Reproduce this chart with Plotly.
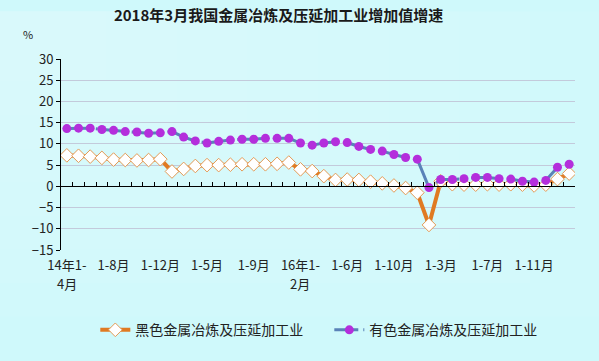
import plotly.graph_objects as go

# Categories: cumulative months, 2014 1-4 .. 2018 1-3
categories = (
    [f"2014年1-{m}月" for m in range(4, 13)]
    + [f"2015年1-{m}月" for m in range(2, 13)]
    + [f"2016年1-{m}月" for m in range(2, 13)]
    + [f"2017年1-{m}月" for m in range(2, 13)]
    + [f"2018年1-{m}月" for m in range(2, 4)]
)

ferrous = [7.3, 7.2, 7.0, 6.7, 6.3, 6.2, 6.1, 6.2, 6.4,
           3.5, 4.1, 4.8, 5.0, 5.0, 5.1, 5.2, 5.2, 5.2, 5.3, 5.6,
           4.0, 3.6, 2.4, 1.5, 1.6, 1.5, 1.1, 0.7, 0.2, -0.4, -1.5,
           -9.1, 1.2, 0.5, 0.4, 0.4, 0.5, 0.4, 0.5, 0.4, 0.2, 0.4,
           1.7, 3.0]

nonferrous = [13.6, 13.7, 13.7, 13.4, 13.2, 12.9, 12.8, 12.5, 12.6,
              12.9, 11.6, 10.7, 10.2, 10.6, 10.9, 11.1, 11.1, 11.3, 11.3, 11.3,
              10.2, 9.7, 10.2, 10.5, 10.3, 9.4, 8.7, 8.3, 7.5, 6.8, 6.4,
              -0.3, 1.6, 1.6, 1.8, 2.1, 2.1, 1.8, 1.7, 1.2, 1.0, 1.4,
              4.5, 5.2]

tick_idx = [0, 4, 8, 12, 16, 20, 24, 28, 32, 36, 40]
tick_text = ["14年1-", "1-8月", "1-12月", "1-5月", "1-9月", "16年1-",
             "1-6月", "1-10月", "1-3月", "1-7月", "1-11月"]
# second lines of the wrapped labels
tick_line2_idx = [0, 20]
tick_line2_text = ["4月", "2月"]

y_ticks = list(range(-15, 31, 5))

name_ferrous = "黑色金属冶炼及压延加工业"
name_nonferrous = "有色金属冶炼及压延加工业"

x_idx = list(range(len(categories)))
n = len(categories)

FONT = "Noto Sans CJK SC"
BG = "#CFF9FB"

fig = go.Figure()
fig.add_trace(go.Scatter(
    x=x_idx, y=ferrous, name=name_ferrous, mode="lines+markers",
    line=dict(color="#E07A22", width=4),
    marker=dict(symbol="diamond", size=10.5, color="#FFFFFF",
                line=dict(color="#E39A55", width=1)),
    customdata=categories, hovertemplate="%{customdata}: %{y}%<extra></extra>",
))
fig.add_trace(go.Scatter(
    x=x_idx, y=nonferrous, name=name_nonferrous, mode="lines+markers",
    line=dict(color="#5A82B8", width=3, dash="24px,5px,2px,5px"),
    marker=dict(symbol="circle", size=9, color="#B42EDC"),
    customdata=categories, hovertemplate="%{customdata}: %{y}%<extra></extra>",
))
# helper trace for the zero-crossing axis with tick marks
fig.add_trace(go.Scatter(x=x_idx, y=[None] * n, xaxis="x2", showlegend=False,
                         hoverinfo="skip"))

# soft light gradient from the top-left corner
shapes = []
for k in range(8):
    f = 1 - k * 0.11
    shapes.append(dict(type="rect", xref="paper", yref="paper", layer="below",
                       x0=-0.2, x1=-0.2 + 1.25 * f, y0=1.25 - 1.6 * f, y1=1.25,
                       line=dict(width=0), fillcolor="rgba(255,255,255,0.045)"))

annotations = [dict(text="%", xref="paper", yref="paper", x=-0.065, y=1.13,
                    xanchor="center", yanchor="middle", showarrow=False,
                    font=dict(size=11, color="#222222"))]
for xi, t in zip(tick_line2_idx, tick_line2_text):
    annotations.append(dict(text=t, xref="x", yref="paper", x=xi, y=-0.115,
                            xanchor="center", yanchor="top", showarrow=False,
                            font=dict(size=13, color="#222222")))

fig.update_layout(
    width=599, height=361,
    margin=dict(l=61, r=24, t=59, b=111, autoexpand=False),
    paper_bgcolor=BG,
    plot_bgcolor="rgba(0,0,0,0)",
    font=dict(family=FONT, size=13, color="#222222"),
    title=dict(text="<b>2018年3月我国金属冶炼及压延加工业增加值增速</b>",
               x=0.465, xanchor="center", y=0.955, yanchor="middle",
               font=dict(family=FONT, size=15, color="#1A1A1A")),
    xaxis=dict(range=[-0.5, n - 0.5], tickmode="array", tickvals=tick_idx,
               ticktext=tick_text, showgrid=False, showline=False, ticks="",
               zeroline=False, ticklabelstandoff=6,
               tickfont=dict(size=13, color="#222222")),
    xaxis2=dict(overlaying="x", anchor="free", position=15 / 45, side="bottom",
                range=[-0.5, n - 0.5], tickmode="array",
                tickvals=[i - 0.5 for i in range(n + 1)],
                ticks="inside", ticklen=4, tickcolor="#000000", tickwidth=1,
                showticklabels=False, showline=True, linecolor="#000000",
                linewidth=1, showgrid=False, zeroline=False),
    yaxis=dict(range=[-15, 30], tickmode="array", tickvals=y_ticks,
               showgrid=True, gridcolor="#C3CADB", gridwidth=1,
               showline=True, linecolor="#000000", linewidth=1,
               ticks="outside", ticklen=4, tickcolor="#000000",
               zeroline=False, tickfont=dict(size=13, color="#222222")),
    legend=dict(orientation="h", x=0.522, xanchor="center", y=-0.42,
                yanchor="middle", font=dict(size=14, color="#222222"),
                bgcolor="rgba(0,0,0,0)", entrywidth=189, entrywidthmode="pixels"),
    annotations=annotations,
    shapes=shapes,
    showlegend=True,
)

fig.write_html("out.html", config={"displayModeBar": False},
               post_script="document.body.style.margin='0';"
                           f"document.body.style.background='{BG}';")
